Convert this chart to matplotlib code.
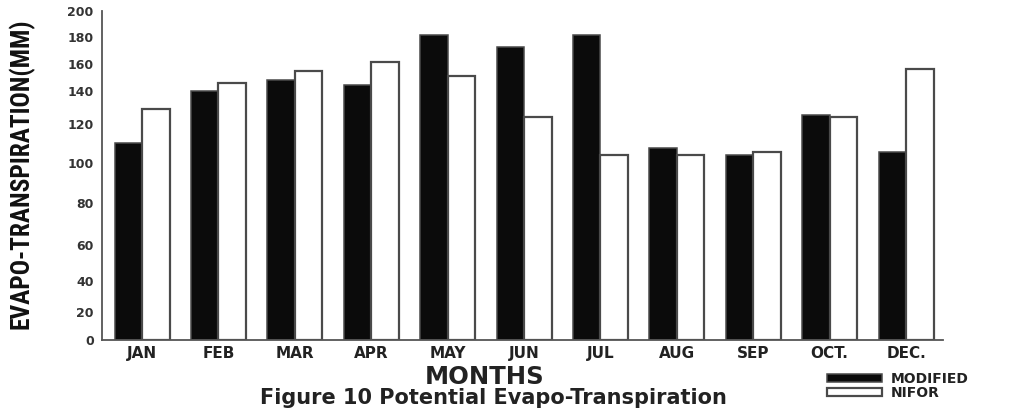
import numpy as np
import matplotlib
matplotlib.use('Agg')
import matplotlib.pyplot as plt
from matplotlib.patches import Patch

months = ['JAN', 'FEB', 'MAR', 'APR', 'MAY', 'JUN', 'JUL', 'AUG', 'SEP', 'OCT.', 'DEC.']
modified = [110, 140, 148, 144, 181, 172.5, 181, 107.5, 104, 125.5, 105.5]
nifor = [129, 145.5, 155, 161.5, 151, 124.5, 104, 104, 105.5, 124.5, 156]
y_ticks = [0, 20, 40, 60, 80, 100, 120, 140, 160, 180, 200]

# the printed axis is not evenly spaced, so warp it piecewise through the ticks
tick_heights = [0, 28.3, 59, 95, 137, 177.3, 216, 249.3, 276, 303.3, 329]


def forward(v):
    return np.interp(v, y_ticks, tick_heights)


def inverse(h):
    return np.interp(h, tick_heights, y_ticks)


plt.rcParams['font.family'] = ['DejaVu Sans']

fig = plt.figure(figsize=(10.23, 4.08), dpi=100)
ax = fig.add_axes([102 / 1023, 68 / 408, 841 / 1023, 329 / 408])
ax.set_yscale('function', functions=(forward, inverse))

x = np.arange(len(months))
w = 0.36
edge = '#4a4a4a'
ax.bar(x - w / 2, modified, w, color='#0b0b0b', edgecolor=edge, linewidth=1.1, label='MODIFIED')
ax.bar(x + w / 2, nifor, w, color='white', edgecolor=edge, linewidth=1.6, label='NIFOR')

ax.set_ylim(0, 200)
ax.set_xlim(-0.524, 10.484)
ax.set_yticks(y_ticks)
ax.set_yticklabels([str(t) for t in y_ticks], fontsize=9, fontweight='bold', color='#333333')
ax.set_xticks(x)
ax.set_xticklabels(months, fontsize=11, fontweight='bold', color='#222222')
ax.tick_params(axis='both', length=0)
ax.tick_params(axis='y', pad=6)
ax.tick_params(axis='x', pad=4)
ax.minorticks_off()

for side in ['top', 'right']:
    ax.spines[side].set_visible(False)
for side in ['left', 'bottom']:
    ax.spines[side].set_color('#555555')
    ax.spines[side].set_linewidth(1.3)

fig.text(21 / 1023, 1 - 174 / 408, 'EVAPO-TRANSPIRATION(MM)', rotation=90,
         ha='center', va='center', fontsize=18.3, fontweight='bold',
         family=['Roboto Condensed', 'DejaVu Sans'], color='#111111')
fig.text(485 / 1023, 1 - 377 / 408, 'MONTHS', ha='center', va='center',
         fontsize=17.5, fontweight='bold', color='#222222')
fig.text(493 / 1023, 1 - 398 / 408, 'Figure 10 Potential Evapo-Transpiration',
         ha='center', va='center', fontsize=15, fontweight='bold', color='#222222')

handles = [Patch(facecolor='#0b0b0b', edgecolor=edge, linewidth=1.1),
           Patch(facecolor='white', edgecolor=edge, linewidth=1.6)]
fig.legend(handles, ['MODIFIED', 'NIFOR'], loc='upper left',
           bbox_to_anchor=(817 / 1023, 1 - 362 / 408), frameon=False,
           prop={'size': 10, 'weight': 'bold'}, handlelength=4.0, handleheight=0.5,
           labelspacing=0.0, handletextpad=0.6, borderpad=0.2, labelcolor='#222222')

fig.savefig('out.png', dpi=100, facecolor='white')
